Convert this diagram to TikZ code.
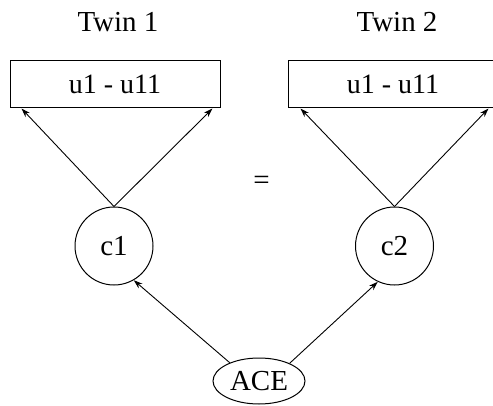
\documentclass[tikz,border=0pt]{standalone}
\usepackage{fontspec}
\setmainfont{Liberation Serif}
\usetikzlibrary{arrows.meta,shapes.geometric}
\begin{document}
\begin{tikzpicture}[
    x=1pt, y=-1pt,
    item/.style={draw, line width=1pt, minimum width=210pt, minimum height=47pt, inner sep=0pt, font=\fontsize{28}{32}\selectfont},
    lat/.style={draw, circle, line width=1pt, minimum size=78pt, inner sep=0pt, font=\fontsize{29}{34}\selectfont},
    src/.style={draw, ellipse, line width=1pt, minimum width=92pt, minimum height=46pt, inner sep=0pt, font=\fontsize{29}{34}\selectfont},
    arr/.style={-{Stealth[length=9pt,width=6pt]}, line width=0.9pt},
    lbl/.style={font=\fontsize{29}{34}\selectfont}
]
\useasboundingbox (0,0) rectangle (493,406);

% --- Twin 1 ---
\node[lbl] (t1) at (118, 22.5) {Twin 1};
\node[item] (b1) at (115, 84.5) {u1 - u11};
\node[lat] (c1) at (114, 246) {c1};
\draw[arr] (c1.north) -- ([xshift=12pt]b1.south west);
\draw[arr] (c1.north) -- ([xshift=-8pt]b1.south east);

% --- Twin 2 ---
\node[lbl] (t2) at (397, 22.5) {Twin 2};
\node[item] (b2) at (393, 84.5) {u1 - u11};
\node[lat] (c2) at (394.5, 246) {c2};
\draw[arr] (c2.north) -- ([xshift=13pt]b2.south west);
\draw[arr] (c2.north) -- ([xshift=-10pt]b2.south east);

\node[lbl] (eq) at (261.5, 182.5) {=};

% --- common source ---
\node[src] (ace) at (259, 381) {ACE};
\draw[arr] (ace.148) -- (c1.300);
\draw[arr] (ace.30) -- (c2.245);
\end{tikzpicture}
\end{document}
